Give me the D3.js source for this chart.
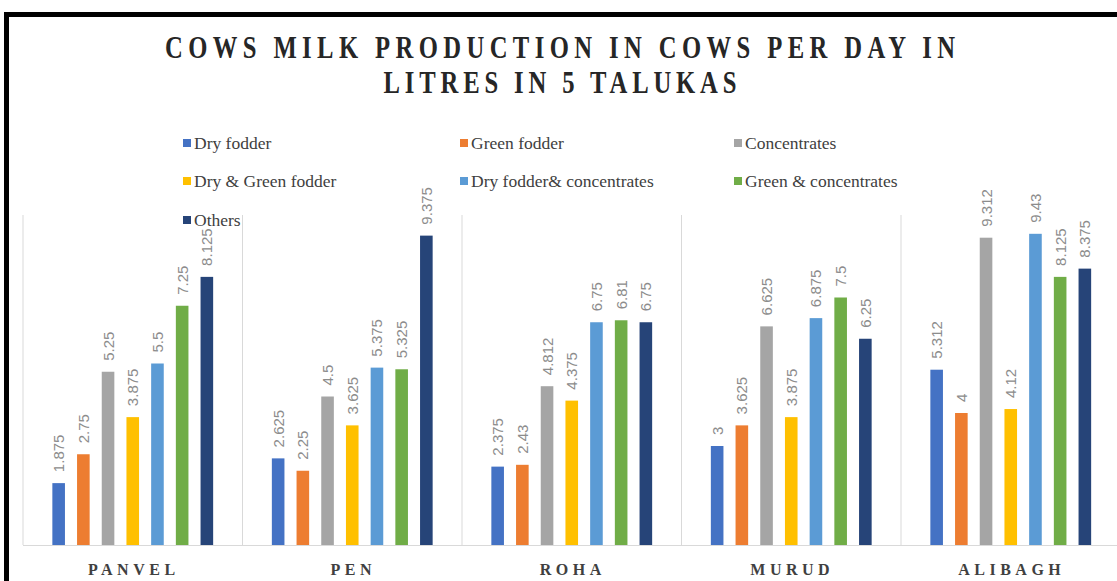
<!DOCTYPE html>
<html>
<head>
<meta charset="utf-8">
<script src="https://cdn.jsdelivr.net/npm/d3@7"></script>
<style>
  body { margin: 0; background: #fff; }
  svg { display: block; }
</style>
</head>
<body>
<svg class="target" width="1117" height="581"></svg>
<script>
var talukas = ["PANVEL", "PEN", "ROHA", "MURUD", "ALIBAGH"];
var seriesNames = ["Dry fodder", "Green fodder", "Concentrates", "Dry & Green fodder",
                   "Dry fodder& concentrates", "Green & concentrates", "Others"];
var colors = ["#4472C4", "#ED7D31", "#A5A5A5", "#FFC000", "#5B9BD5", "#70AD47", "#264478"];

// litres per cow per day, one array per feeding type (same order as talukas)
var dryFodder      = [1.875, 2.625, 2.375, 3, 5.312];
var greenFodder    = [2.75, 2.25, 2.43, 3.625, 4];
var concentrates   = [5.25, 4.5, 4.812, 6.625, 9.312];
var dryGreen       = [3.875, 3.625, 4.375, 3.875, 4.12];
var dryConc        = [5.5, 5.375, 6.75, 6.875, 9.43];
var greenConc      = [7.25, 5.325, 6.81, 7.5, 8.125];
var others         = [8.125, 9.375, 6.75, 6.25, 8.375];
var seriesValues = [dryFodder, greenFodder, concentrates, dryGreen, dryConc, greenConc, others];

var titleLines = ["COWS MILK PRODUCTION IN COWS PER DAY IN", "LITRES IN 5 TALUKAS"];

var svg = d3.select(".target");

// outer frame
svg.append("rect")
    .attr("x", 6.5).attr("y", 14.5)
    .attr("width", 1130).attr("height", 600)
    .style("fill", "none").style("stroke", "#000").style("stroke-width", 5);

var plotLeft = 23, plotRight = 1120.5, baseY = 545, topY = 215;

var x0 = d3.scaleBand().domain(talukas).range([plotLeft, plotRight]).padding(0);
var groupW = 172.9;
var x1 = d3.scaleBand().domain(d3.range(seriesNames.length))
    .range([(x0.bandwidth() - groupW) / 2, (x0.bandwidth() + groupW) / 2])
    .paddingInner(0.49).paddingOuter(0.245);
var y = d3.scaleLinear().domain([0, 10]).range([baseY, topY]);

// separators between categories
var edges = talukas.map(function (t) { return x0(t); }).concat([plotRight]);
svg.selectAll(".sep").data(edges).enter().append("line")
    .attr("x1", function (d) { return d; }).attr("x2", function (d) { return d; })
    .attr("y1", y(10)).attr("y2", y(0))
    .style("stroke", "#d9d9d9").style("stroke-width", 1);

// bars
var rows = [];
seriesValues.forEach(function (vals, si) {
    vals.forEach(function (v, ci) {
        rows.push({ s: si, c: talukas[ci], v: v });
    });
});

svg.selectAll(".bar").data(rows).enter().append("rect")
    .attr("x", function (d) { return x0(d.c) + x1(d.s); })
    .attr("y", function (d) { return y(d.v); })
    .attr("width", x1.bandwidth())
    .attr("height", function (d) { return y(0) - y(d.v); })
    .style("fill", function (d) { return colors[d.s]; });

// value labels, rotated
svg.selectAll(".lbl").data(rows).enter().append("text")
    .attr("transform", function (d) {
        var cx = x0(d.c) + x1(d.s) + x1.bandwidth() / 2 + 5.5;
        return "translate(" + cx + "," + (y(d.v) - 11) + ") rotate(-90)";
    })
    .style("font-family", "'Liberation Sans', Arial, sans-serif")
    .style("font-size", "15px")
    .style("fill", "#8c8c8c")
    .text(function (d) { return String(d.v); });

// baseline
svg.append("line")
    .attr("x1", plotLeft).attr("x2", plotRight)
    .attr("y1", baseY + 0.5).attr("y2", baseY + 0.5)
    .style("stroke", "#d9d9d9");

// category labels
svg.selectAll(".cat").data(talukas).enter().append("text")
    .attr("x", function (d) { return x0(d) + x0.bandwidth() / 2 + 1; })
    .attr("y", 575)
    .attr("text-anchor", "middle")
    .style("font-family", "'Liberation Serif', 'Times New Roman', serif")
    .style("font-weight", "bold")
    .style("font-size", "16px")
    .style("letter-spacing", "4.5px")
    .style("fill", "#404040")
    .text(function (d) { return d; });

// title (narrow, tall glyphs with some tracking)
var tsx = 0.88;
svg.selectAll(".title").data(titleLines).enter().append("text")
    .attr("transform", function (d, i) { return "translate(560," + (58 + i * 35) + ") scale(" + tsx + ",1.1)"; })
    .attr("text-anchor", "middle")
    .attr("textLength", function (d, i) { return (i === 0 ? 790 : 353) / tsx; })
    .attr("lengthAdjust", "spacing")
    .style("font-family", "'Liberation Serif', 'Times New Roman', serif")
    .style("font-weight", "bold")
    .style("font-size", "28px")
    .style("fill", "#262626")
    .text(function (d) { return d; });

// legend
var legCols = [183, 460, 734], legRows = [143, 181, 220];
var leg = svg.selectAll(".leg").data(seriesNames).enter().append("g")
    .attr("transform", function (d, i) {
        return "translate(" + legCols[i % 3] + "," + legRows[Math.floor(i / 3)] + ")";
    });
leg.append("rect")
    .attr("x", 0).attr("y", -4).attr("width", 8).attr("height", 8)
    .style("fill", function (d, i) { return colors[i]; });
leg.append("text")
    .attr("x", 11).attr("y", 5.5)
    .style("font-family", "'Liberation Serif', 'Times New Roman', serif")
    .style("font-size", "17.5px")
    .style("fill", "#404040")
    .text(function (d) { return d; });
</script>
</body>
</html>
